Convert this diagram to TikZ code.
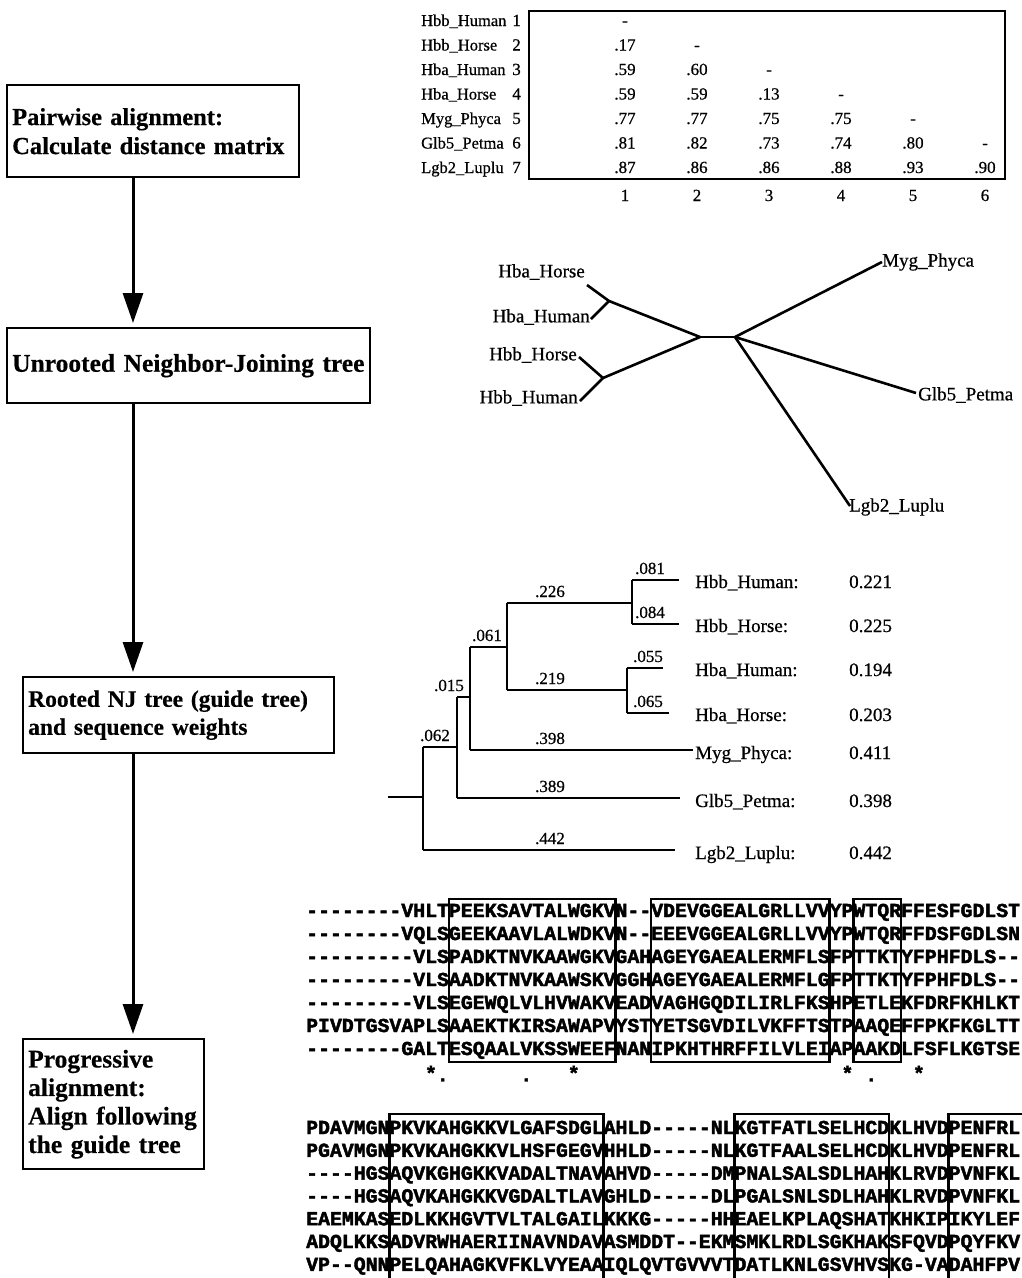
\documentclass[tikz,border=0pt]{standalone}
\usepackage{fontspec}
\setmainfont{Liberation Serif}[UprightFeatures={FakeBold=0.6},BoldFeatures={FakeBold=0.4}]
\newfontfamily\alnfont{Liberation Mono}[Ligatures=TeXOff,BoldFeatures={FakeBold=2.2}]
\usetikzlibrary{arrows.meta}
\begin{document}
\begin{tikzpicture}[x=1pt,y=-1pt,
  stepbox/.style={draw,line width=2.4pt,anchor=north west,inner xsep=5pt,inner ysep=0pt,align=left},
  flow/.style={line width=3pt,-{Triangle[width=20pt,length=30pt]},shorten >=4pt},
  mtx/.style={font=\fontsize{17}{20}\selectfont,inner sep=0pt,anchor=base},
  mname/.style={font=\fontsize{16.5}{20}\selectfont,inner sep=0pt,anchor=base west},
  tlab/.style={font=\fontsize{19}{22}\selectfont,inner sep=0pt},
  rlab/.style={font=\fontsize{19}{22}\selectfont,inner sep=0pt,anchor=base west},
  blab/.style={font=\fontsize{17}{20}\selectfont,inner sep=0pt,anchor=base},
  tline/.style={line width=2.6pt},
  rline/.style={line width=2.2pt},
  seq/.style={font=\alnfont\bfseries\fontsize{19.83}{22}\selectfont,inner sep=0pt,anchor=base west},
  cons/.style={font=\alnfont\bfseries\fontsize{19.83}{22}\selectfont,inner sep=0pt},
  hbox/.style={line width=2.6pt},
]
\fill[white] (0,0) rectangle (1022,1278);
\useasboundingbox (0,0) rectangle (1022,1278);

% ---------------- left flow ----------------
\node[stepbox,minimum width=292pt,minimum height=92pt,text width=282pt,
      font=\fontsize{24.5}{29}\selectfont\bfseries] (b1) at (6,84)
  {\mbox{Pairwise alignment:}\\\mbox{Calculate distance matrix}};
\node[stepbox,minimum width=363pt,minimum height=75pt,text width=353pt,
      font=\fontsize{25.5}{29}\selectfont\bfseries] (b2) at (6,327)
  {\mbox{Unrooted Neighbor-Joining tree}};
\node[stepbox,minimum width=311pt,minimum height=76pt,text width=301pt,
      font=\fontsize{23.5}{28}\selectfont\bfseries] (b3) at (22,676)
  {\mbox{Rooted NJ tree (guide tree)}\\\mbox{and sequence weights}};
\node[stepbox,minimum width=181pt,minimum height=130pt,text width=171pt,
      font=\fontsize{25.5}{28.5}\selectfont\bfseries] (b4) at (22,1038)
  {\mbox{Progressive}\\\mbox{alignment:}\\\mbox{Align following}\\\mbox{the guide tree}};
\coordinate (ax) at (133,0);
\draw[flow] (b1.south -| ax) -- (b2.north -| ax);
\draw[flow] (b2.south -| ax) -- (b3.north -| ax);
\draw[flow] (b3.south -| ax) -- (b4.north -| ax);

% ---------------- distance matrix ----------------
\foreach \i/\n/\y in {1/Hbb\_Human/20,2/Hbb\_Horse/44.5,3/Hba\_Human/69,4/Hba\_Horse/93.5,
                      5/Myg\_Phyca/118,6/Glb5\_Petma/142.5,7/Lgb2\_Luplu/167}{
  \node[mname] (mn\i) at (421,\y+6) {\n};
  \node[mtx,anchor=base east] (mr\i) at (521,\y+6) {\i};
}
\foreach \r/\c/\v in {1/1/-,2/1/.17,2/2/-,3/1/.59,3/2/.60,3/3/-,4/1/.59,4/2/.59,4/3/.13,4/4/-,
   5/1/.77,5/2/.77,5/3/.75,5/4/.75,5/5/-,6/1/.81,6/2/.82,6/3/.73,6/4/.74,6/5/.80,6/6/-,
   7/1/.87,7/2/.86,7/3/.86,7/4/.88,7/5/.93,7/6/.90}{
  \node[mtx] (v\r-\c) at ({625+(\c-1)*72},{26+(\r-1)*24.5}) {\v};
}
\foreach \c in {1,...,6}{
  \node[mtx] (cl\c) at ({625+(\c-1)*72},201) {\c};
}
\node[draw,line width=2pt,anchor=north west,inner sep=0pt,minimum width=476pt,minimum height=168pt] (mbox) at (528,10) {};

% ---------------- unrooted tree ----------------
\node[tlab,anchor=east] (uHbaHorse) at (585,272) {Hba\_Horse};
\node[tlab,anchor=east] (uHbaHuman) at (590,317) {Hba\_Human};
\node[tlab,anchor=east] (uHbbHorse) at (577,355) {Hbb\_Horse};
\node[tlab,anchor=east] (uHbbHuman) at (578,398) {Hbb\_Human};
\node[tlab,anchor=west] (uMyg) at (882,262) {Myg\_Phyca};
\node[tlab,anchor=west] (uGlb) at (918,395) {Glb5\_Petma};
\node[tlab,anchor=west] (uLgb) at (849,507) {Lgb2\_Luplu};
\coordinate (eHbaHorse) at (587,285);
\coordinate (eHbaHuman) at (591,319);
\coordinate (eHbbHorse) at (579,357);
\coordinate (eHbbHuman) at (580,401);
\coordinate (eMyg) at (882,262);
\coordinate (eGlb) at (916,393);
\coordinate (eLgb) at (850,506);
\coordinate (uA) at (609,301);
\coordinate (uB) at (603,378);
\coordinate (uC1) at (700,337);
\coordinate (uC2) at (735,337);
\draw[tline] (eHbaHorse) -- (uA) -- (eHbaHuman);
\draw[tline] (eHbbHorse) -- (uB) -- (eHbbHuman);
\draw[tline] (uA) -- (uC1) -- (uB);
\draw[tline] (uC1) -- (uC2);
\draw[tline] (uC2) -- (eMyg);
\draw[tline] (uC2) -- (eGlb);
\draw[tline] (uC2) -- (eLgb);

% ---------------- rooted tree ----------------
\coordinate (root) at (388,797);
\coordinate (n0) at (423,797);
\coordinate (n0t) at (423,747);
\coordinate (n0b) at (423,850);
\coordinate (n1t) at (457,697);
\coordinate (n1m) at (457,747);
\coordinate (n1b) at (457,798);
\coordinate (n2t) at (470,647);
\coordinate (n2m) at (470,697);
\coordinate (n2b) at (470,750);
\coordinate (n3t) at (507,603);
\coordinate (n3m) at (507,647);
\coordinate (n3b) at (507,690);
\coordinate (n4t) at (632,580);
\coordinate (n4m) at (632,603);
\coordinate (n4b) at (632,624);
\coordinate (n5t) at (627,668);
\coordinate (n5m) at (627,690);
\coordinate (n5b) at (627,713);
\coordinate (tHbbHuman) at (679,580);
\coordinate (tHbbHorse) at (679,624);
\coordinate (tHbaHuman) at (663,668);
\coordinate (tHbaHorse) at (669,713);
\coordinate (tMyg) at (693,750);
\coordinate (tGlb) at (680,798);
\coordinate (tLgb) at (675,850);
\draw[rline] (root) -- (n0);
\draw[rline] (n0t) -- (n0b);
\draw[rline] (n0t) -- (n1m);
\draw[rline] (n0b) -- (tLgb);
\draw[rline] (n1t) -- (n1b);
\draw[rline] (n1b) -- (tGlb);
\draw[rline] (n1t) -- (n2m);
\draw[rline] (n2t) -- (n2b);
\draw[rline] (n2b) -- (tMyg);
\draw[rline] (n2t) -- (n3m);
\draw[rline] (n3t) -- (n3b);
\draw[rline] (n3t) -- (n4m);
\draw[rline] (n3b) -- (n5m);
\draw[rline] (n4t) -- (n4b);
\draw[rline] (n4t) -- (tHbbHuman);
\draw[rline] (n4b) -- (tHbbHorse);
\draw[rline] (n5t) -- (n5b);
\draw[rline] (n5t) -- (tHbaHuman);
\draw[rline] (n5b) -- (tHbaHorse);
% branch lengths
\node[blab] (l081) at (650,574) {.081};
\node[blab] (l084) at (650,618) {.084};
\node[blab] (l055) at (648,662) {.055};
\node[blab] (l065) at (648,707) {.065};
\node[blab] (l226) at (550,597) {.226};
\node[blab] (l219) at (550,684) {.219};
\node[blab] (l061) at (487,641) {.061};
\node[blab] (l015) at (449,691) {.015};
\node[blab] (l062) at (435,741) {.062};
\node[blab] (l398) at (550,744) {.398};
\node[blab] (l389) at (550,792) {.389};
\node[blab] (l442) at (550,844) {.442};
% names and weights
\foreach \k/\n/\w/\y in {1/Hbb\_Human:/0.221/580,2/Hbb\_Horse:/0.225/624,3/Hba\_Human:/0.194/668,
    4/Hba\_Horse:/0.203/713,5/Myg\_Phyca:/0.411/751,6/Glb5\_Petma:/0.398/799,7/Lgb2\_Luplu:/0.442/851}{
  \node[rlab] (rn\k) at (695,\y+8) {\n};
  \node[rlab] (rw\k) at (849,\y+8) {\w};
}

% ---------------- alignment block 1 ----------------
\foreach \i/\s in {
 1/{--------VHLTPEEKSAVTALWGKVN--VDEVGGEALGRLLVVYPWTQRFFESFGDLST},
 2/{--------VQLSGEEKAAVLALWDKVN--EEEVGGEALGRLLVVYPWTQRFFDSFGDLSN},
 3/{---------VLSPADKTNVKAAWGKVGAHAGEYGAEALERMFLSFPTTKTYFPHFDLS--},
 4/{---------VLSAADKTNVKAAWSKVGGHAGEYGAEALERMFLGFPTTKTYFPHFDLS--},
 5/{---------VLSEGEWQLVLHVWAKVEADVAGHGQDILIRLFKSHPETLEKFDRFKHLKT},
 6/{PIVDTGSVAPLSAAEKTKIRSAWAPVYSTYETSGVDILVKFFTSTPAAQEFFPKFKGLTT},
 7/{--------GALTESQAALVKSSWEEFNANIPKHTHRFFILVLEIAPAAKDLFSFLKGTSE}}{
  \node[seq] (a\i) at (306,{911+(\i-1)*23+6}) {\s};
}
\foreach \c/\t/\yy in {10/*/1073,11/./1080,18/./1080,22/*/1073,45/*/1073,47/./1080,51/*/1073}{
  \node[cons] (k\c) at ({306+11.9*(\c+0.5)},\yy) {\t};
}
\foreach \a/\b in {12/26,29/44,46/50}{
  \draw[hbox] ({306+11.9*\a},899) rectangle ({306+11.9*\b},1062);
}

% ---------------- alignment block 2 ----------------
\foreach \i/\s in {
 1/{PDAVMGNPKVKAHGKKVLGAFSDGLAHLD-----NLKGTFATLSELHCDKLHVDPENFRL},
 2/{PGAVMGNPKVKAHGKKVLHSFGEGVHHLD-----NLKGTFAALSELHCDKLHVDPENFRL},
 3/{----HGSAQVKGHGKKVADALTNAVAHVD-----DMPNALSALSDLHAHKLRVDPVNFKL},
 4/{----HGSAQVKAHGKKVGDALTLAVGHLD-----DLPGALSNLSDLHAHKLRVDPVNFKL},
 5/{EAEMKASEDLKKHGVTVLTALGAILKKKG-----HHEAELKPLAQSHATKHKIPIKYLEF},
 6/{ADQLKKSADVRWHAERIINAVNDAVASMDDT--EKMSMKLRDLSGKHAKSFQVDPQYFKV},
 7/{VP--QNNPELQAHAGKVFKLVYEAAIQLQVTGVVVTDATLKNLGSVHVSKG-VADAHFPV}}{
  \node[seq] (c\i) at (306,{1128+(\i-1)*22.8+6}) {\s};
}
\foreach \a/\b in {7/25,36/49}{
  \draw[hbox] ({306+11.9*\a},1285) -- ({306+11.9*\a},1114) -- ({306+11.9*\b},1114) -- ({306+11.9*\b},1285);
}
\draw[hbox] ({306+11.9*54},1285) -- ({306+11.9*54},1114) -- (1025,1114);
\end{tikzpicture}
\end{document}
